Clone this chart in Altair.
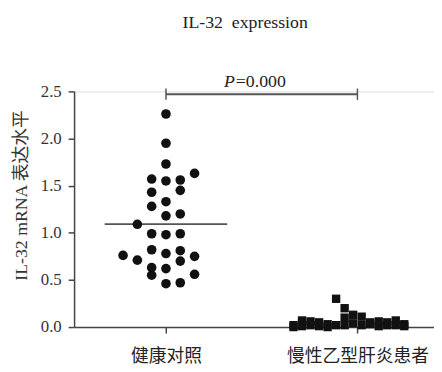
import altair as alt
import pandas as pd

# ---------------- data ----------------
categories = ["健康对照", "慢性乙型肝炎患者"]

# healthy controls: value and dot column (horizontal scatter column index)
healthy_values = [2.26, 1.95, 1.73, 1.63, 1.57, 1.55, 1.56, 1.43, 1.45, 1.33,
                  1.28, 1.18, 1.20, 1.09, 0.99, 0.98, 0.99, 0.76, 0.71, 0.82,
                  0.78, 0.81, 0.70, 0.75, 0.63, 0.55, 0.62, 0.56, 0.46, 0.47]
healthy_cols = [0, 0, 0, 2, -1, 0, 1, -1, 1, 0,
                -1, 0, 1, -2, -1, 0, 1, -3, -2, -1,
                0, 1, 1, 2, -1, -1, 0, 2, 0, 1]

# chronic hepatitis B patients
chb_values = [0.00, 0.02,
              0.01, 0.04, 0.07,
              0.02, 0.06,
              0.01, 0.05,
              0.00, 0.03,
              0.02, 0.30,
              0.02, 0.10, 0.20,
              0.04, 0.13,
              0.02, 0.11,
              0.03, 0.05,
              0.01, 0.06,
              0.02, 0.05,
              0.02, 0.07,
              0.01, 0.03]
chb_cols = [-7.5, -7.5,
            -6.5, -6.5, -6.5,
            -5.5, -5.5,
            -4.5, -4.5,
            -3.5, -3.5,
            -2.5, -2.5,
            -1.5, -1.5, -1.5,
            -0.5, -0.5,
            0.5, 0.5,
            1.5, 1.5,
            2.5, 2.5,
            3.5, 3.5,
            4.5, 4.5,
            5.5, 5.5]

p_text = "=0.000"
chart_title = "IL-32\u00a0 expression"
y_title = "IL-32 mRNA 表达水平"

# ---------------- layout helpers ----------------
COL_H = 0.0747
COL_C = 0.0445
MEAN_HALF = 0.32

healthy = pd.DataFrame({"x": [1 + c * COL_H for c in healthy_cols], "value": healthy_values})
chb = pd.DataFrame({"x": [2 + c * COL_C for c in chb_cols], "value": chb_values})
mean_df = pd.DataFrame({"x": [1 - MEAN_HALF], "x2": [1 + MEAN_HALF],
                        "value": [healthy["value"].mean()]})
bracket = pd.DataFrame({"x": [1], "x2": [2], "value": [2.47]})
bracket_ends = pd.DataFrame({"x": [1, 2], "value": [2.41, 2.41], "v2": [2.53, 2.53]})
p_df = pd.DataFrame({"x": [1.365], "value": [2.55]})

SERIF = "Liberation Serif, Noto Sans CJK SC"
AX = "#444444"

xscale = alt.Scale(domain=[0.52, 2.40], nice=False, zero=False)
yscale = alt.Scale(domain=[0, 2.5], nice=False, zero=False)

label_expr = f"datum.value == 1 ? '{categories[0]}' : '{categories[1]}'"
xaxis = alt.Axis(values=[1, 2], labelExpr=label_expr, title=None, grid=False,
                 labelFont="Noto Sans CJK SC", labelFontSize=18, labelColor="#222222",
                 labelPadding=15, tickSize=6, tickColor=AX, tickWidth=1.5,
                 domainColor=AX, domainWidth=1.5, labelFlush=False, labelOverlap=False)
yaxis = alt.Axis(values=[0, 0.5, 1.0, 1.5, 2.0, 2.5], format=".1f", title=y_title, grid=False,
                 labelFont="Liberation Serif", labelFontSize=17, labelColor="#333333",
                 labelPadding=7, tickSize=6, tickColor=AX, tickWidth=1.5,
                 domainColor=AX, domainWidth=1.5,
                 titleFont=SERIF, titleFontSize=18, titleFontWeight="normal",
                 titleColor="#333333", titleX=-53, titleY=105, titleBaseline="middle",
                 titleAlign="center", titleAngle=270)


def X(field):
    return alt.X(field, type="quantitative", scale=xscale, axis=xaxis)


def Y(field):
    return alt.Y(field, type="quantitative", scale=yscale, axis=yaxis)


dots = alt.Chart(healthy).mark_point(shape="circle", filled=True, size=95,
                                     color="#111111", opacity=1).encode(x=X("x"), y=Y("value"))
squares = alt.Chart(chb).mark_point(shape="square", filled=True, size=72,
                                    color="#111111", opacity=1).encode(x=X("x"), y=Y("value"))
mean_rule = alt.Chart(mean_df).mark_rule(color="#555555", strokeWidth=1.8).encode(
    x=X("x"), x2="x2", y=Y("value"))
br = alt.Chart(bracket).mark_rule(color="#555555", strokeWidth=2).encode(
    x=X("x"), x2="x2", y=Y("value"))
br_ends = alt.Chart(bracket_ends).mark_rule(color="#555555", strokeWidth=1.5).encode(
    x=X("x"), y=Y("value"), y2="v2")
p_italic = alt.Chart(p_df).mark_text(text="P", fontStyle="italic", align="right",
                                     baseline="alphabetic", font="Liberation Serif",
                                     fontSize=18, color="#222222", dx=-1).encode(
    x=X("x"), y=Y("value"))
p_rest = alt.Chart(p_df).mark_text(text=p_text, align="left", baseline="alphabetic",
                                   font="Liberation Serif", fontSize=18,
                                   color="#222222").encode(x=X("x"), y=Y("value"))

chart = alt.layer(mean_rule, br, br_ends, dots, squares, p_italic, p_rest).properties(
    width=365, height=239,
    title=alt.TitleParams(chart_title, font="Liberation Serif", fontSize=18,
                          fontWeight="normal", color="#222222", anchor="middle",
                          frame="group", baseline="alphabetic", offset=27, dx=-9),
    autosize=alt.AutoSizeParams(type="none"),
    padding={"left": 67, "top": 82, "right": 0, "bottom": 43},
).configure_view(stroke=None).configure(background="white")

chart.save("out.html", embed_options={"renderer": "svg", "actions": False})
